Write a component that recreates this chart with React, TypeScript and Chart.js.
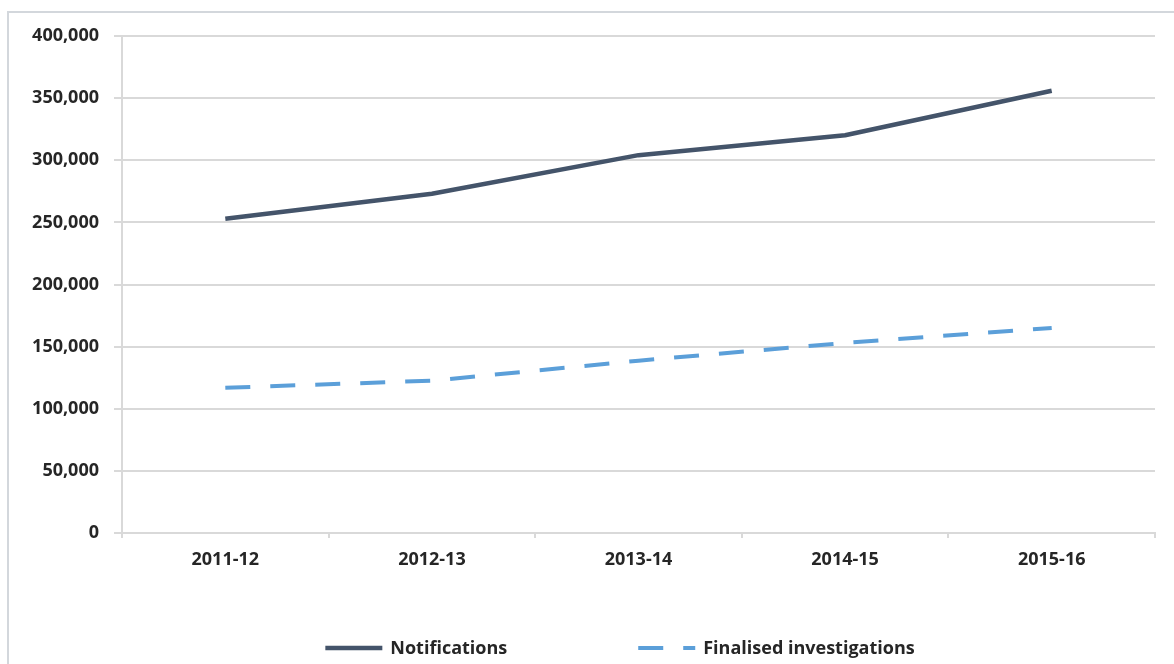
import React, { useEffect, useRef } from "react";
import { Chart, registerables } from "chart.js";

Chart.register(...registerables);

const categories = ["2011-12", "2012-13", "2013-14", "2014-15", "2015-16"];
const notifications = [252962, 272980, 304097, 320169, 355935];
const finalisedInvestigations = [116900, 122600, 138700, 153000, 165000];
const yTickValues = [0, 50000, 100000, 150000, 200000, 250000, 300000, 350000, 400000];
const seriesLabels = ["Notifications", "Finalised investigations"];

const W = 1174;
const H = 664;
const FONT = "'Open Sans', sans-serif";
const FONT_WEIGHT = "bold";
const FONT_SIZE = 18;
const TEXT_COLOR = "#262626";
const GRID_COLOR = "#d9d9d9";
const DARK = "#44546a";
const LIGHT = "#5b9fd9";

export default function App() {
  const ref = useRef<HTMLCanvasElement>(null);

  useEffect(() => {
    if (!ref.current) return;

    const framePlugin = {
      id: "frame",
      beforeDraw(chart: any) {
        const ctx = chart.ctx;
        ctx.save();
        ctx.fillStyle = "#ffffff";
        ctx.fillRect(0, 0, W, H);
        ctx.strokeStyle = "#d3d7dc";
        ctx.lineWidth = 2;
        ctx.beginPath();
        ctx.moveTo(8, H);
        ctx.lineTo(8, 12);
        ctx.lineTo(W, 12);
        ctx.stroke();
        ctx.restore();
      },
    };

    const legendPlugin = {
      id: "customLegend",
      afterDraw(chart: any) {
        const ctx = chart.ctx;
        const datasets = chart.data.datasets;
        const lineW = 57;
        const textGap = 8;
        const itemGap = 131;
        const centerX = 620;
        const y = 648;
        ctx.save();
        ctx.font = `${FONT_WEIGHT} ${FONT_SIZE}px ${FONT}`;
        ctx.textBaseline = "middle";
        ctx.textAlign = "left";
        const widths = datasets.map(
          (d: any) => lineW + textGap + ctx.measureText(d.label).width
        );
        const total = widths.reduce((a: number, b: number) => a + b, 0) + itemGap * (datasets.length - 1);
        let x = centerX - total / 2;
        datasets.forEach((d: any, i: number) => {
          ctx.save();
          ctx.strokeStyle = d.borderColor;
          ctx.lineWidth = d.borderWidth;
          ctx.setLineDash(d.borderDash || []);
          ctx.lineCap = "butt";
          ctx.beginPath();
          ctx.moveTo(x, y);
          ctx.lineTo(x + lineW, y);
          ctx.stroke();
          ctx.restore();
          ctx.fillStyle = TEXT_COLOR;
          ctx.fillText(d.label, x + lineW + textGap, y + 1);
          x += widths[i] + itemGap;
        });
        ctx.restore();
      },
    };

    const chart = new Chart(ref.current, {
      type: "line",
      data: {
        labels: categories,
        datasets: [
          {
            label: seriesLabels[0],
            data: notifications,
            borderColor: DARK,
            backgroundColor: DARK,
            borderWidth: 4.5,
            pointRadius: 0,
            tension: 0,
            borderJoinStyle: "round",
            borderCapStyle: "butt",
          },
          {
            label: seriesLabels[1],
            data: finalisedInvestigations,
            borderColor: LIGHT,
            backgroundColor: LIGHT,
            borderWidth: 4,
            borderDash: [25, 20],
            pointRadius: 0,
            tension: 0,
            borderJoinStyle: "round",
            borderCapStyle: "butt",
          },
        ],
      },
      options: {
        responsive: false,
        animation: false,
        devicePixelRatio: 1,
        layout: { padding: { left: 0, top: 36, right: 19, bottom: 0 } },
        plugins: {
          legend: { display: false },
          tooltip: { enabled: false },
        },
        scales: {
          x: {
            type: "category",
            offset: true,
            afterFit: (s: any) => {
              s.height = 131;
            },
            grid: {
              offset: true,
              drawOnChartArea: false,
              drawTicks: true,
              tickLength: 5,
              color: GRID_COLOR,
              lineWidth: 2,
            },
            border: { display: true, color: GRID_COLOR, width: 2 },
            ticks: {
              color: TEXT_COLOR,
              font: { family: FONT, size: FONT_SIZE, weight: FONT_WEIGHT },
              padding: 11,
              maxRotation: 0,
            },
          },
          y: {
            min: 0,
            max: 400000,
            afterFit: (s: any) => {
              s.width = 122;
            },
            afterBuildTicks: (s: any) => {
              s.ticks = yTickValues.map((v) => ({ value: v }));
            },
            grid: {
              color: GRID_COLOR,
              lineWidth: 2,
              tickLength: 8,
            },
            border: { display: true, color: GRID_COLOR, width: 2 },
            ticks: {
              color: TEXT_COLOR,
              font: { family: FONT, size: FONT_SIZE, weight: FONT_WEIGHT },
              padding: 15,
              callback: (v: any) => Number(v).toLocaleString("en-US"),
            },
          },
        },
      },
      plugins: [framePlugin, legendPlugin],
    });

    return () => chart.destroy();
  }, []);

  return (
    <div style={{ position: "fixed", left: 0, top: 0, width: W, height: H, background: "#fff" }}>
      <canvas ref={ref} width={W} height={H} style={{ display: "block", width: W, height: H }} />
    </div>
  );
}
